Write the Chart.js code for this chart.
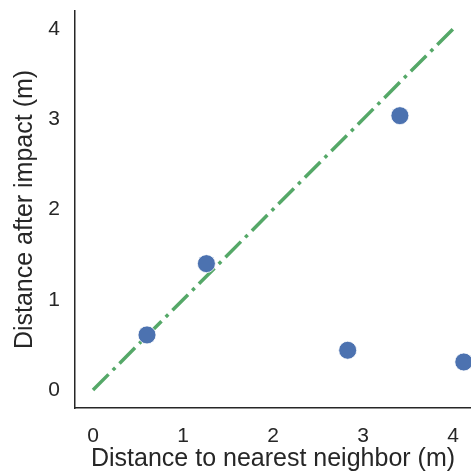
<!DOCTYPE html>
<html>
<head>
<meta charset="utf-8">
<script src="https://cdn.jsdelivr.net/npm/chart.js@4/dist/chart.umd.min.js"></script>
<style>
  html, body { margin: 0; padding: 0; background: #fff; }
  #wrap { width: 471px; height: 474px; }
</style>
</head>
<body>
<div id="wrap"><canvas id="grafico"></canvas></div>
<script>
// pontos medidos
const distVizinho = [0.60, 1.26, 2.83, 3.41, 4.12];
const distImpacto = [0.61, 1.40, 0.44, 3.04, 0.31];
// linha de referencia y = x
const linhaX = [0, 4];
const linhaY = [0, 4];
const ticksEixo = [0, 1, 2, 3, 4];

const corTexto = '#262626';
const fonte = 'Liberation Sans, Arial, sans-serif';

let pontos = [];
for (let i = 0; i < distVizinho.length; i++) {
    pontos.push({ x: distVizinho[i], y: distImpacto[i] });
}
let linha = [];
for (let i = 0; i < linhaX.length; i++) {
    linha.push({ x: linhaX[i], y: linhaY[i] });
}

const fixaTicks = (scale) => {
    scale.ticks = ticksEixo.map(v => ({ value: v }));
};

Chart.defaults.font.family = fonte;
Chart.defaults.color = corTexto;

const ctx = document.getElementById('grafico');
new Chart(ctx, {
    type: 'scatter',
    data: {
        datasets: [
            {
                label: 'pontos',
                data: pontos,
                pointRadius: 9,
                pointHoverRadius: 9,
                backgroundColor: '#4c72b0',
                borderColor: '#ffffff',
                borderWidth: 0.8,
                order: 0
            },
            {
                type: 'line',
                label: 'y = x',
                data: linha,
                borderColor: '#55a868',
                borderWidth: 3.5,
                borderDash: [22, 6, 3.5, 6],
                pointRadius: 0,
                fill: false,
                order: 1
            }
        ]
    },
    options: {
        responsive: true,
        maintainAspectRatio: false,
        animation: false,
        layout: { autoPadding: false, padding: { top: 11, right: 0, left: 0, bottom: 0 } },
        plugins: {
            legend: { display: false },
            tooltip: { enabled: false }
        },
        scales: {
            x: {
                type: 'linear',
                min: -0.2,
                max: 4.2,
                afterBuildTicks: fixaTicks,
                afterFit: (s) => {
                    s.height = 66;
                    s.paddingLeft = 0;
                    s.paddingRight = 0;
                },
                grid: { display: false, drawTicks: false },
                border: { display: true, color: '#262626', width: 1.5 },
                ticks: { padding: 16, font: { size: 21 }, color: corTexto, maxRotation: 0 },
                title: {
                    display: true,
                    text: 'Distance to nearest neighbor (m)',
                    font: { size: 25 },
                    color: corTexto,
                    padding: { top: 0, bottom: 0 }
                }
            },
            y: {
                type: 'linear',
                min: -0.2,
                max: 4.2,
                afterBuildTicks: fixaTicks,
                afterFit: (s) => {
                    s.width = 75;
                    s.paddingTop = 0;
                    s.paddingBottom = 0;
                },
                grid: { display: false, drawTicks: false },
                border: { display: true, color: '#262626', width: 1.5 },
                ticks: { padding: 15, font: { size: 21 }, color: corTexto },
                title: {
                    display: true,
                    text: 'Distance after impact (m)',
                    font: { size: 25 },
                    color: corTexto,
                    padding: { top: 10, bottom: 0 }
                }
            }
        }
    }
});
</script>
</body>
</html>
